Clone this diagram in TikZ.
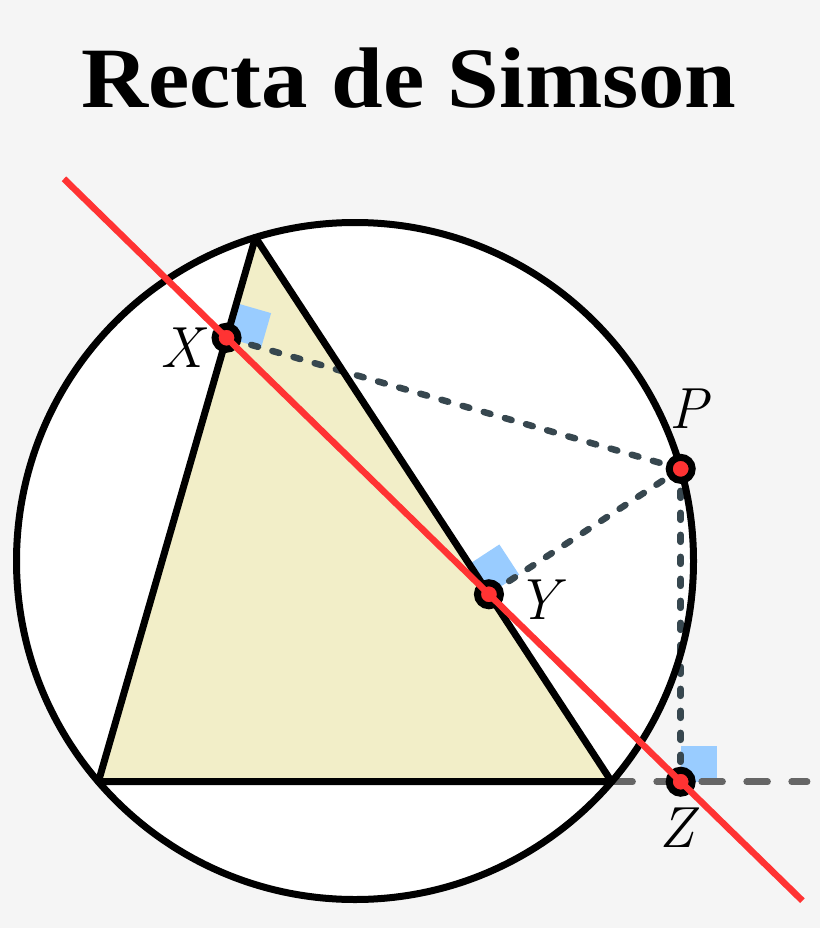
\documentclass[tikz,border=0pt]{standalone}
\usepackage{fontspec}
\newfontfamily\titlefont{Liberation Serif}
\usetikzlibrary{calc}
\definecolor{bg}{HTML}{F5F5F5}
\definecolor{tri}{HTML}{F2EEC8}
\definecolor{rl}{HTML}{FF3333}
\definecolor{slate}{HTML}{37474F}
\definecolor{gr}{HTML}{666666}
\definecolor{sq}{HTML}{99CCFF}
\tikzset{
  edge/.style={line width=7pt, line join=round, line cap=round},
  perp/.style={line width=6.5pt, slate, line cap=round, dash pattern=on 7pt off 15pt},
  ext/.style={line width=6.5pt, gr, line cap=round, dash pattern=on 21pt off 24pt},
  simson/.style={line width=6.5pt, rl},
  pt/.style={circle, inner sep=0pt, minimum size=23pt, draw=black, line width=7pt, fill=rl},
  lab/.style={font=\fontsize{58}{60}\selectfont\itshape},
  rsq/.style={fill=sq}
}
\begin{document}
\begin{tikzpicture}[x=1pt,y=-1pt]
\useasboundingbox (0,0) rectangle (820,928);
\fill[bg] (0,0) rectangle (820,928);
\node[anchor=base, font=\titlefont\bfseries\fontsize{86}{90}\selectfont] (title) at (409,108) {\scalebox{1.08}[1]{Recta de Simson}};
\coordinate (O) at (355,561);
\coordinate (A) at ($(O)+(252.9:338.5)$);
\coordinate (B) at ($(O)+(139.3:338.5)$);
\coordinate (C) at ($(O)+(40.7:338.5)$);
\coordinate (P) at ($(O)+(-15.8:338.5)$);
\coordinate (X) at ($(A)!(P)!(B)$);
\coordinate (Y) at ($(A)!(P)!(C)$);
\coordinate (Z) at ($(B)!(P)!(C)$);
\coordinate (E) at ($(B)!1.381!(C)$);
\coordinate (S1) at ($(X)!-0.358!(Z)$);
\coordinate (S2) at ($(X)!1.268!(Z)$);
% circle and triangle fills
\fill[white] (O) circle[radius=338.5pt];
\fill[tri] (A) -- (B) -- (C) -- cycle;
% right angle squares
\coordinate (xu) at ($(X)!36pt!(P)$); \coordinate (xv) at ($(X)!36pt!(A)$);
\fill[rsq] (X) -- (xu) -- ($(xu)+(xv)-(X)$) -- (xv) -- cycle;
\coordinate (yu) at ($(Y)!36pt!(P)$); \coordinate (yv) at ($(Y)!36pt!(A)$);
\fill[rsq] (Y) -- (yu) -- ($(yu)+(yv)-(Y)$) -- (yv) -- cycle;
\coordinate (zu) at ($(Z)!36pt!(P)$); \coordinate (zv) at ($(Z)!-36pt!(C)$);
\fill[rsq] (Z) -- (zu) -- ($(zu)+(zv)-(Z)$) -- (zv) -- cycle;
% dashed lines
\draw[ext] (C) -- (E);
\draw[perp] (P) -- (X);
\draw[perp] (P) -- (Y);
\draw[perp] (P) -- (Z);
% triangle and circle outlines
\draw[edge] (A) -- (B) -- (C) -- cycle;
\draw[line width=7pt] (O) circle[radius=338.5pt];
% points
\node[pt] (nX) at (X) {};
\node[pt] (nY) at (Y) {};
\node[pt] (nZ) at (Z) {};
\node[pt] (nP) at (P) {};
% Simson line
\draw[simson] (S1) -- (S2);
% labels
\node[lab] (lX) at (182,348) {X};
\node[lab] (lY) at (538,600) {Y};
\node[lab] (lP) at (689,409) {P};
\node[lab] (lZ) at (677,828) {Z};
\end{tikzpicture}
\end{document}
